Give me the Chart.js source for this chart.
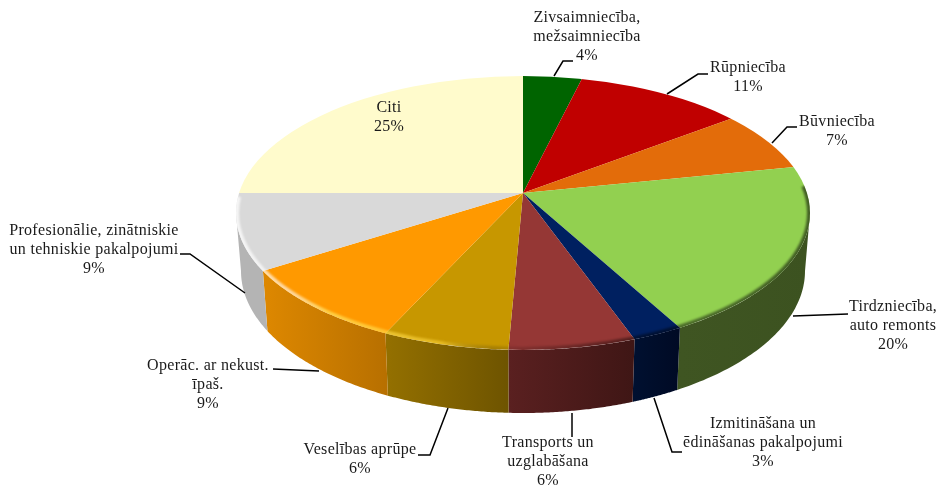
<!DOCTYPE html>
<html>
<head>
<meta charset="utf-8">
<style>html,body{margin:0;padding:0;background:#fff}canvas{display:block}</style>
<script src="https://cdn.jsdelivr.net/npm/chart.js@4"></script>
</head>
<body>
<canvas id="c" width="940" height="485"></canvas>
<script>
const categories = ["Zivsaimniecība, mežsaimniecība","Rūpniecība","Būvniecība","Tirdzniecība, auto remonts","Izmitināšana un ēdināšanas pakalpojumi","Transports un uzglabāšana","Veselības aprūpe","Operāc. ar nekust. īpaš.","Profesionālie, zinātniskie un tehniskie pakalpojumi","Citi"];
const shares = [3.8,10.9,7.1,20.2,2.5,6.2,6.2,9.1,9,25];
const topColors = ["#006400","#C00000","#E36C0A","#92D050","#002060","#953735","#C79700","#FF9900","#D9D9D9","#FFFBCC"];
const sideLeft  = ["#003000","#600000","#8A4206","#3F5522","#001030","#5A2020","#947000","#DE8800","#B4B4B4","#C0C0A0"];
const sideRight = ["#003000","#600000","#8A4206","#3C5220","#000A24","#3F1615","#6E5400","#B87000","#B4B4B4","#C0C0A0"];
const labelLines = [
  ["Zivsaimniecība,","mežsaimniecība","4%"],["Rūpniecība","11%"],["Būvniecība","7%"],
  ["Tirdzniecība,","auto remonts","20%"],["Izmitināšana un","ēdināšanas pakalpojumi","3%"],
  ["Transports un","uzglabāšana","6%"],["Veselības aprūpe","6%"],["Operāc. ar nekust.","īpaš.","9%"],
  ["Profesionālie, zinātniskie","un tehniskie pakalpojumi","9%"],["Citi","25%"]
];
// layout of labels: centre x and first line centre y, then leader polyline
const labelBoxes = [[587,18],[748,68],[837,122],[893,307],[763,424],[548,443],[360,450],[208,366],[94,231],[389,108]];
const leaders = [
  [[554,76],[563,61],[573,61]],
  [[667,94],[698,74],[708,74]],
  [[772,143],[787,127],[797,127]],
  [[793,316],[848,314]],
  [[654,398],[672,452],[682,452]],
  [[572,413],[572,437]],
  [[448,408],[430,455],[418,455]],
  [[273,369],[319,371]],
  [[180,254],[190,254],[245,293]],
  []
];
const APEX = {x:523, y:193}, TILT = 0.472;
const TOP = {cx:523, cy:213, rx:287, ry:137};
const BOT = {cx:523, cy:271, rx:282, ry:142};

function rayParam(angle){
  // intersection of the projected slice ray with the top ellipse, returned as ellipse parameter
  const dx = Math.cos(angle), dy = Math.sin(angle)*TILT;
  const ox = (APEX.x-TOP.cx)/TOP.rx, oy = (APEX.y-TOP.cy)/TOP.ry;
  const ux = dx/TOP.rx, uy = dy/TOP.ry;
  const a = ux*ux+uy*uy, b = 2*(ox*ux+oy*uy), c = ox*ox+oy*oy-1;
  const s = (-b+Math.sqrt(b*b-4*a*c))/(2*a);
  return Math.atan2(oy+uy*s, ox+ux*s);
}
const pt = (E,t)=>[E.cx+E.rx*Math.cos(t), E.cy+E.ry*Math.sin(t)];

const pie3d = {
  id:'pie3d',
  beforeDatasetDraw(chart,args){
    const ctx = chart.ctx, meta = args.meta;
    ctx.save();
    // front wall of each slice
    meta.data.forEach((arc,i)=>{
      let t0 = rayParam(arc.startAngle), t1 = rayParam(arc.endAngle);
      if (t1 < t0) t1 += Math.PI*2;
      const lo = Math.max(t0,0), hi = Math.min(t1,Math.PI);
      if (hi <= lo) return;
      const A = pt(TOP,lo), B = pt(TOP,hi);
      const g = ctx.createLinearGradient(B[0],0,A[0],0);
      g.addColorStop(0,sideLeft[i]); g.addColorStop(1,sideRight[i]);
      ctx.beginPath();
      const n = 60;
      for(let k=0;k<=n;k++){const p=pt(TOP,lo+(hi-lo)*k/n); k?ctx.lineTo(p[0],p[1]):ctx.moveTo(p[0],p[1]);}
      for(let k=n;k>=0;k--){const p=pt(BOT,lo+(hi-lo)*k/n); ctx.lineTo(p[0],p[1]);}
      ctx.closePath();
      ctx.fillStyle = g; ctx.fill();
    });
    // top face: library arcs under the tilt transform, trimmed by the ellipse
    ctx.beginPath();
    ctx.ellipse(TOP.cx,TOP.cy,TOP.rx,TOP.ry,0,0,Math.PI*2);
    ctx.clip();
    const arc0 = meta.data[0], K = 360/arc0.outerRadius;
    ctx.save();
    ctx.translate(APEX.x,APEX.y);
    ctx.scale(K,K*TILT);
    ctx.translate(-arc0.x,-arc0.y);
    meta.controller.draw();
    ctx.restore();
    // bevelled rim
    const g = ctx.createLinearGradient(TOP.cx-TOP.rx,0,TOP.cx+TOP.rx,0);
    g.addColorStop(0,'rgba(255,255,255,.75)');
    g.addColorStop(.1,'rgba(255,255,255,.6)');
    g.addColorStop(.16,'rgba(255,225,90,.75)');
    g.addColorStop(.36,'rgba(255,215,60,.55)');
    g.addColorStop(.48,'rgba(0,0,0,.12)');
    g.addColorStop(.7,'rgba(0,0,0,.45)');
    g.addColorStop(1,'rgba(0,0,0,.55)');
    ctx.filter = 'blur(1.2px)';
    ctx.strokeStyle = g; ctx.lineWidth = 6;
    ctx.beginPath();
    ctx.ellipse(TOP.cx,TOP.cy,TOP.rx,TOP.ry,0,-0.2,Math.PI+0.12);
    ctx.stroke();
    ctx.restore();
    return false;
  },
  afterDraw(chart){
    const ctx = chart.ctx;
    ctx.save();
    ctx.strokeStyle = '#000'; ctx.lineWidth = 1.5;
    leaders.forEach(l=>{
      if(!l.length) return;
      ctx.beginPath();
      l.forEach((p,k)=>k?ctx.lineTo(p[0],p[1]):ctx.moveTo(p[0],p[1]));
      ctx.stroke();
    });
    ctx.fillStyle = '#1a1a1a';
    ctx.font = '16px "Liberation Serif"';
    ctx.letterSpacing = '0.3px';
    ctx.textAlign = 'center'; ctx.textBaseline = 'middle';
    labelLines.forEach((lines,i)=>{
      lines.forEach((s,k)=>ctx.fillText(s,labelBoxes[i][0],labelBoxes[i][1]+k*18.7));
    });
    ctx.restore();
  }
};

new Chart(document.getElementById('c'),{
  type:'pie',
  data:{labels:categories,datasets:[{data:shares,backgroundColor:topColors,borderWidth:0}]},
  options:{
    responsive:false,animation:false,
    layout:{padding:0},
    plugins:{legend:{display:false},tooltip:{enabled:false}}
  },
  plugins:[pie3d]
});
</script>
</body>
</html>
